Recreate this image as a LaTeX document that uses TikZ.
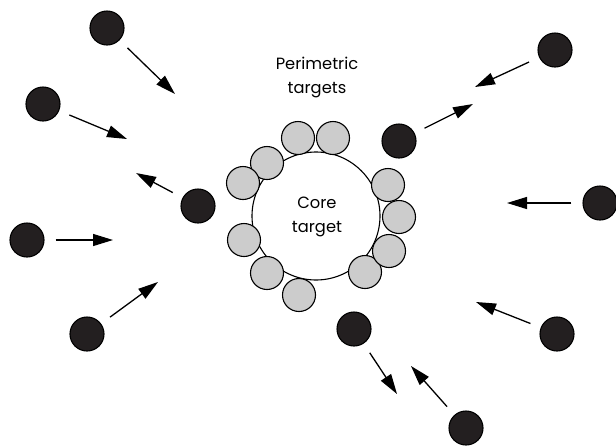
\documentclass[tikz,border=0pt]{standalone}
\usepackage{fontspec}
\setmainfont{Poppins}
\usetikzlibrary{arrows.meta}
\definecolor{ink}{HTML}{231F20}
\definecolor{pgray}{HTML}{CCCCCC}
\begin{document}
\begin{tikzpicture}[x=1pt,y=-1pt,
  agent/.style={circle,draw=black,fill=ink,line width=1.1pt,minimum size=34pt,inner sep=0pt},
  perim/.style={circle,draw=black,fill=pgray,line width=1.1pt,minimum size=33pt,inner sep=0pt},
  core/.style={circle,draw=black,fill=white,line width=1.1pt,minimum size=128pt,inner sep=0pt},
  move/.style={line width=1.3pt,-{Triangle[length=20pt,width=12pt]},shorten <=11pt},
  lbl/.style={font=\fontsize{16.3}{24}\selectfont,align=center}]
\useasboundingbox (0,0) rectangle (616,445);
% core and perimetric targets
\node[core] (core) at (316,216) {};
\foreach \n/\x/\y in {p1/298/138, p2/333/138, p3/267/163, p4/243/183, p5/244/240,
  p6/267/273, p7/299/295, p8/365/272, p9/389/251, p10/399/217, p11/388/185}
  \node[perim] (\n) at (\x,\y) {};
\node[lbl] (coretxt) at (317,217) {Core\\target};
\node[lbl] (perimtxt) at (317,77) {Perimetric\\targets};
% agents
\node[agent] (b1) at (107,28) {};
\node[agent] (b2) at (43,104) {};
\node[agent] (b3) at (198,206) {};
\node[agent] (b4) at (27,240) {};
\node[agent] (b5) at (87,334) {};
\node[agent] (b6) at (555,50) {};
\node[agent] (b7) at (399,141) {};
\node[agent] (b8) at (600,203) {};
\node[agent] (b9) at (557,334) {};
\node[agent] (b10) at (354,329) {};
\node[agent] (b11) at (466,428) {};
% arrow tips
\coordinate (t1) at (175,94);
\coordinate (t2) at (127,139);
\coordinate (t3) at (136,173);
\coordinate (t4) at (113,240);
\coordinate (t5) at (158,282);
\coordinate (t6) at (475,87);
\coordinate (t7) at (473,104);
\coordinate (t8) at (507,203);
\coordinate (t9) at (476,302);
\coordinate (t10) at (397,394);
\coordinate (t11) at (411,366);
\foreach \i in {1,...,11}
  \draw[move] (b\i) -- (t\i);
\end{tikzpicture}
\end{document}
